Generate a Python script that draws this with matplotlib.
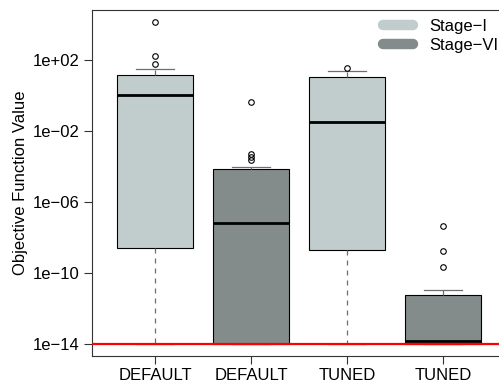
import matplotlib
matplotlib.use('Agg')
import numpy as np
import matplotlib.pyplot as plt
from matplotlib.lines import Line2D
from matplotlib.ticker import FixedLocator, FixedFormatter, NullLocator

plt.rcParams['font.family'] = ['Liberation Sans', 'DejaVu Sans']

# Box statistics (log10 of the objective value)
labels = ['DEFAULT', 'DEFAULT', 'TUNED', 'TUNED']
stages = ['Stage\u2212I', 'Stage\u2212VI', 'Stage\u2212I', 'Stage\u2212VI']
whislo_log = [-14.0, -14.0, -14.0, -14.0]
q1_log = [-8.57, -14.0, -8.72, -14.0]
med_log = [0.01, -7.17, -1.48, -13.82]
q3_log = [1.14, -4.12, 1.03, -11.22]
whishi_log = [1.49, -4.05, 1.38, -10.96]
fliers_log = [
    [1.76, 2.2, 4.14],
    [-3.63, -3.46, -3.31, -0.38],
    [1.53],
    [-9.68, -8.74, -7.33],
]
tick_exps = [2, -2, -6, -10, -14]
threshold = 1e-14

stage_colors = {'Stage\u2212I': '#C1CDCD', 'Stage\u2212VI': '#838B8B'}
whisker_col = '#6e6e6e'

stats = []
for i in range(len(labels)):
    stats.append({
        'whislo': 10 ** whislo_log[i],
        'q1': 10 ** q1_log[i],
        'med': 10 ** med_log[i],
        'q3': 10 ** q3_log[i],
        'whishi': 10 ** whishi_log[i],
        'fliers': 10 ** np.array(fliers_log[i]),
        'label': labels[i],
    })

fig = plt.figure(figsize=(4.99, 3.83), dpi=100)
# right edge of the plot frame falls just outside the figure, as in R's output
ax = fig.add_axes([92 / 499, 1 - 356 / 383, (506 - 92) / 499, (356 - 10) / 383])
ax.set_yscale('log')

bp = ax.bxp(stats, positions=np.arange(1, 5), widths=0.8, patch_artist=True,
            capwidths=0.4,
            boxprops=dict(edgecolor='black', linewidth=0.8),
            medianprops=dict(color='black', linewidth=2.0, solid_capstyle='butt'),
            whiskerprops=dict(color=whisker_col, linewidth=0.9, linestyle=(0, (4, 4))),
            capprops=dict(color=whisker_col, linewidth=0.9),
            flierprops=dict(marker='o', markersize=4, markerfacecolor='none',
                            markeredgecolor='black', markeredgewidth=0.8))
for patch, st in zip(bp['boxes'], stages):
    patch.set_facecolor(stage_colors[st])

ax.axhline(threshold, color='red', linewidth=1.6, zorder=5)

ax.set_xlim(0.344, 4.656)
ax.set_ylim(10 ** -14.676, 10 ** 4.817)

ax.yaxis.set_major_locator(FixedLocator([10.0 ** e for e in tick_exps]))
ax.yaxis.set_major_formatter(FixedFormatter(
    ['1e%s%02d' % ('+' if e >= 0 else '\u2212', abs(e)) for e in tick_exps]))
ax.yaxis.set_minor_locator(NullLocator())
ax.tick_params(axis='both', labelsize=12, length=6, width=0.8, color='#333333')
ax.tick_params(axis='y', pad=3)
ax.tick_params(axis='x', pad=3)
ax.set_xticks(np.arange(1, 5))
ax.set_xticklabels(labels)
ax.set_ylabel('Objective Function Value', fontsize=12, labelpad=3)
for s in ax.spines.values():
    s.set_linewidth(0.8)
    s.set_color('#333333')

handles = [Line2D([], [], color=stage_colors[k], linewidth=7.5, solid_capstyle='round')
           for k in ['Stage\u2212I', 'Stage\u2212VI']]
fig.legend(handles, ['Stage\u2212I', 'Stage\u2212VI'], loc='upper left',
           bbox_to_anchor=(383 / 499, 1 - 19 / 383), frameon=False, fontsize=12,
           handlelength=1.8, handletextpad=0.95, labelspacing=0.25,
           borderpad=0, borderaxespad=0)

fig.savefig('out.png', dpi=100)
